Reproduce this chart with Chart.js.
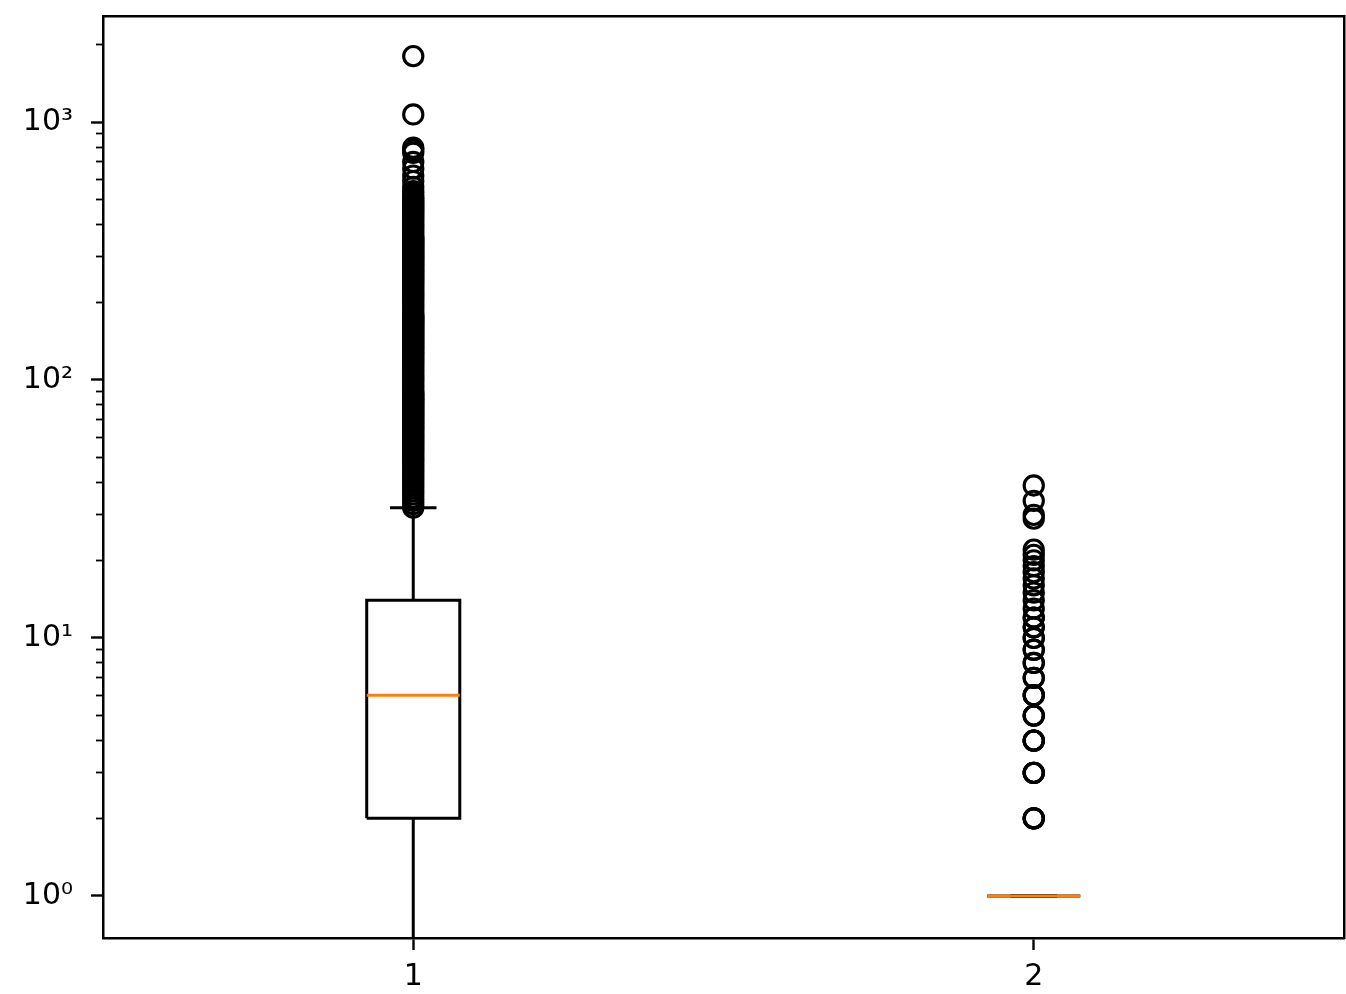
<!DOCTYPE html>
<html>
<head>
<meta charset="utf-8">
<script src="https://cdn.jsdelivr.net/npm/chart.js@4.4.1/dist/chart.umd.min.js"></script>
<style>
  html, body { margin: 0; padding: 0; background: #ffffff; overflow: hidden; }
  canvas { display: block; }
</style>
</head>
<body>
<canvas id="c" width="1346" height="994"></canvas>
<script>
// ---------------- data ----------------
const categories = [1, 2];
const categoryLabels = ['1', '2'];

const q1 = [2, 1];
const medians = [6, 1];
const q3 = [14, 1];
const whiskerLow = [0, 1];
const whiskerHigh = [32, 1];

const outliers1 = [
  32, 33, 34, 35, 36, 37, 38, 39, 40, 41, 42, 43, 44, 45, 46, 47, 48, 49, 50,
  51, 52, 53, 54, 55, 56, 57, 58, 59, 60, 61, 62, 63, 64, 65, 66, 67, 68, 69, 70,
  71, 72, 73, 74, 75, 76, 77, 78, 79, 80, 81, 82, 83, 84, 85, 86, 87, 88, 89, 90,
  92, 94, 96, 98, 100, 102, 104, 106, 108, 110, 112, 114, 116, 118, 120, 122, 124,
  126, 128, 130, 132, 134, 136, 138, 140, 142, 144, 146, 148, 150, 152, 154, 156,
  158, 160, 162, 164, 166, 168, 170, 172, 174, 176, 178, 180,
  184, 188, 192, 196, 200, 204, 208, 212, 216, 220, 224, 228, 232, 236, 240, 244,
  248, 252, 256, 260, 264, 268, 272, 276, 280, 284, 288, 292, 296, 300, 304, 308,
  312, 316, 320, 324, 328, 332, 336, 340, 344, 348, 352, 356, 360,
  368, 376, 384, 392, 400, 408, 416, 424, 432, 440, 448, 456, 464, 472, 480, 488,
  496, 504, 512, 525, 540, 560, 590, 620, 660, 700, 760, 780, 795, 1070, 1800
];
const outliers2 = [
  2, 2, 2, 2, 3, 3, 3, 3, 4, 4, 4, 4, 5, 5, 5, 6, 6, 6, 7, 7, 8, 8, 9, 9, 10, 10,
  11, 11, 12, 12, 13, 14, 15, 16, 17, 18, 19, 20, 21, 22, 29, 30, 34, 39
];

const yMajorTicks = [1, 10, 100, 1000];
const yMajorLabels = ['10\u2070', '10\u00B9', '10\u00B2', '10\u00B3'];
const yMinorTicks = [2, 3, 4, 5, 6, 7, 8, 9, 20, 30, 40, 50, 60, 70, 80, 90,
  200, 300, 400, 500, 600, 700, 800, 900, 2000];
const xLimits = [0.5, 2.5];
const yLimits = [0.687, 2576];

// ---------------- style ----------------
const BOX_HALF = 0.075;
const CAP_HALF = 0.0375;
const LINE_W = 3;
const FONT = { family: 'DejaVu Sans', size: 30 };

function seg(points, order, color) {
  return {
    type: 'scatter',
    data: points,
    showLine: true,
    borderColor: color || '#000000',
    borderWidth: LINE_W,
    borderCapStyle: 'butt',
    borderJoinStyle: 'miter',
    pointRadius: 0,
    pointHoverRadius: 0,
    fill: false,
    tension: 0,
    order: order
  };
}

// zero on a log axis lies below the visible range: clamp it to the axis bottom
const onAxis = v => (v > 0 ? v : yLimits[0]);

const outlierSets = [outliers1, outliers2];
const datasets = [];
categories.forEach((c, i) => {
  datasets.push(seg([{ x: c, y: q1[i] }, { x: c, y: onAxis(whiskerLow[i]) }], 5));
  datasets.push(seg([{ x: c, y: q3[i] }, { x: c, y: whiskerHigh[i] }], 5));
  if (whiskerLow[i] > 0) {
    datasets.push(seg([{ x: c - CAP_HALF, y: whiskerLow[i] }, { x: c + CAP_HALF, y: whiskerLow[i] }], 4));
  }
  datasets.push(seg([{ x: c - CAP_HALF, y: whiskerHigh[i] }, { x: c + CAP_HALF, y: whiskerHigh[i] }], 4));
  datasets.push(seg([
    { x: c - BOX_HALF, y: q1[i] }, { x: c + BOX_HALF, y: q1[i] },
    { x: c + BOX_HALF, y: q3[i] }, { x: c - BOX_HALF, y: q3[i] },
    { x: c - BOX_HALF, y: q1[i] }
  ], 3));
  datasets.push(seg([{ x: c - BOX_HALF, y: medians[i] }, { x: c + BOX_HALF, y: medians[i] }], 2, '#ff7f0e'));
  datasets.push({
    type: 'scatter',
    data: outlierSets[i].map(v => ({ x: c, y: v })),
    showLine: false,
    pointStyle: 'circle',
    pointRadius: 9.6,
    pointHoverRadius: 9.6,
    pointBorderWidth: 3.1,
    pointBorderColor: '#000000',
    pointBackgroundColor: 'rgba(0,0,0,0)',
    order: 1
  });
});

const noPad = s => { s.paddingLeft = 0; s.paddingRight = 0; s.paddingTop = 0; s.paddingBottom = 0; };

new Chart(document.getElementById('c'), {
  type: 'scatter',
  data: { datasets },
  options: {
    responsive: false,
    animation: false,
    events: [],
    layout: { autoPadding: false, padding: { left: 0, right: 2, top: 16, bottom: 0 } },
    plugins: { legend: { display: false }, tooltip: { enabled: false } },
    scales: {
      x: {
        type: 'linear', position: 'bottom', bounds: 'data',
        min: xLimits[0], max: xLimits[1],
        afterBuildTicks: s => { s.ticks = categories.map(v => ({ value: v })); },
        ticks: {
          callback: v => categoryLabels[categories.indexOf(v)],
          font: FONT, color: '#000000', padding: 9, maxRotation: 0, autoSkip: false
        },
        grid: { display: true, drawOnChartArea: false, tickLength: 12, tickWidth: 2.4, tickColor: '#000000' },
        border: { display: true, color: '#000000', width: 2.5 },
        afterFit: s => { s.height = 56; noPad(s); }
      },
      xTop: {
        type: 'linear', position: 'top', bounds: 'data',
        min: xLimits[0], max: xLimits[1],
        ticks: { display: false },
        grid: { display: false },
        border: { display: true, color: '#000000', width: 2.5 },
        afterFit: s => { s.height = 0; noPad(s); }
      },
      y: {
        type: 'logarithmic', position: 'left', weight: 1, bounds: 'data',
        min: yLimits[0], max: yLimits[1],
        afterBuildTicks: s => { s.ticks = yMajorTicks.map(v => ({ value: v, major: true })); },
        ticks: {
          callback: v => yMajorLabels[yMajorTicks.indexOf(v)],
          font: FONT, color: '#000000', padding: 18, autoSkip: false
        },
        grid: { display: true, drawOnChartArea: false, tickLength: 12, tickWidth: 2.4, tickColor: '#000000' },
        border: { display: true, color: '#000000', width: 2.5 },
        afterFit: s => { s.width = 103; noPad(s); }
      },
      yMinor: {
        type: 'logarithmic', position: 'left', weight: 0, bounds: 'data',
        min: yLimits[0], max: yLimits[1],
        afterBuildTicks: s => { s.ticks = yMinorTicks.map(v => ({ value: v })); },
        ticks: { display: false },
        grid: { display: true, drawOnChartArea: false, tickLength: 7, tickWidth: 1.8, tickColor: '#000000' },
        border: { display: false },
        afterFit: s => { s.width = 0; noPad(s); }
      },
      yRight: {
        type: 'linear', position: 'right', bounds: 'data',
        min: 0, max: 1,
        ticks: { display: false },
        grid: { display: false },
        border: { display: true, color: '#000000', width: 2.5 },
        afterFit: s => { s.width = 0; noPad(s); }
      }
    }
  }
});
</script>
</body>
</html>
